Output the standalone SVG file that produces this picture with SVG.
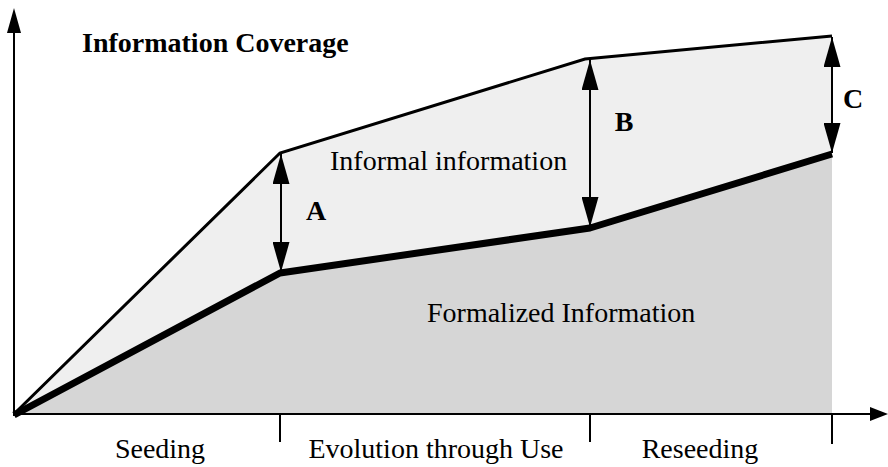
<svg xmlns="http://www.w3.org/2000/svg" width="888" height="467" viewBox="0 0 888 467">
<style>
text{font-family:"Liberation Serif","Times New Roman",serif;fill:#000;font-size:28px}
.b{font-weight:bold}
.ax{stroke:#000;stroke-width:2;fill:none}
.dim{stroke:#000;stroke-width:2;fill:none;marker-start:url(#ah);marker-end:url(#ah)}
</style>
<defs>
<marker id="ah" viewBox="0 0 30 17" refX="30" refY="8.5" markerWidth="30" markerHeight="17" markerUnits="userSpaceOnUse" orient="auto-start-reverse">
<path d="M0,0 L30,8.5 L0,17 Z" fill="#000"/>
</marker>
</defs>
<g id="areas">
<polygon points="16,412 280,153 585,59 832,36 832,154 590,228 280,273" fill="#efefef"/>
<polygon points="16,412 280,273 590,228 832,154 832,414 16,414" fill="#d6d6d6"/>
</g>
<g id="axes">
<line class="ax" x1="14" y1="416" x2="14" y2="30"/>
<polygon points="14,8 7,33 21,33" fill="#000"/>
<line class="ax" x1="14" y1="414" x2="872" y2="414"/>
<polygon points="888,414 870,407 870,421" fill="#000"/>
<line class="ax" x1="280" y1="414" x2="280" y2="442"/>
<line class="ax" x1="590" y1="414" x2="590" y2="442"/>
<line class="ax" x1="832" y1="414" x2="832" y2="444"/>
</g>
<g id="connectors">
<polyline points="16,412 280,153 585,59 832,36" fill="none" stroke="#000" stroke-width="3"/>
<polyline points="14,415 280,273 590,228 832,154" fill="none" stroke="#000" stroke-width="7" stroke-linejoin="round"/>
<line class="dim" x1="281" y1="154" x2="281" y2="272"/>
<line class="dim" x1="590" y1="60" x2="590" y2="227"/>
<line class="dim" x1="832" y1="37" x2="832" y2="153"/>
</g>
<g id="labels">
<text class="b" x="82" y="52">Information Coverage</text>
<text x="330" y="170">Informal information</text>
<text x="427" y="322">Formalized Information</text>
<text class="b" x="316" y="220" text-anchor="middle">A</text>
<text class="b" x="624" y="131" text-anchor="middle">B</text>
<text class="b" x="853" y="108" text-anchor="middle">C</text>
<text x="160" y="458" text-anchor="middle">Seeding</text>
<text x="436" y="458" text-anchor="middle">Evolution through Use</text>
<text x="700" y="458" text-anchor="middle">Reseeding</text>
</g>
</svg>
